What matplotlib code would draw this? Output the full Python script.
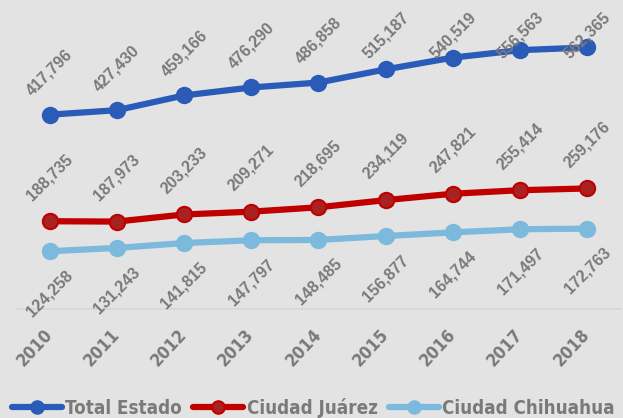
import matplotlib
matplotlib.use("Agg")
import matplotlib.pyplot as plt
from matplotlib import font_manager as fm
from matplotlib.transforms import ScaledTranslation

years = ["2010", "2011", "2012", "2013", "2014", "2015", "2016", "2017", "2018"]
total_estado = [417796, 427430, 459166, 476290, 486858, 515187, 540519, 556563, 562365]
ciudad_juarez = [188735, 187973, 203233, 209271, 218695, 234119, 247821, 255414, 259176]
ciudad_chihuahua = [124258, 131243, 141815, 147797, 148485, 156877, 164744, 171497, 172763]

# find an installed condensed bold face
narrow_path = None
cands = []
for f in fm.fontManager.ttflist:
    nm = (f.fname + " " + f.name).lower()
    cond = ("condensed" in nm or "narrow" in nm or str(f.stretch) in ("condensed", "semi-condensed", "extra-condensed"))
    if cond and "italic" not in nm and "oblique" not in f.style:
        w = f.weight if isinstance(f.weight, int) else 400
        score = abs(w - 700) + (0 if "semi" not in nm else 50)
        cands.append((score, f.fname))
cands.sort()
if cands:
    narrow_path = cands[0][1]

def narrow_props(size):
    if narrow_path:
        return fm.FontProperties(fname=narrow_path, size=size)
    return fm.FontProperties(family="DejaVu Sans", weight="bold", size=size * 0.85)

bg = "#e3e3e3"
gray = "#7a7a7a"
W, H = 623, 418

fig = plt.figure(figsize=(W/100, H/100), dpi=100, facecolor=bg)
ax = fig.add_axes([16/W, (H-309)/H, 605/W, 299/H])
ax.set_facecolor(bg)
ax.set_xlim(-0.5, len(years) - 0.5)
ax.set_ylim(0, 299 * 2150)

x = list(range(len(years)))
series = [
    ("Total Estado", total_estado, "#2a5bb9", "#2a5bb9", "#2a5bb9", 1, 42),
    ("Ciudad Juárez", ciudad_juarez, "#c00000", "#a82222", "#c00000", 1, 44),
    ("Ciudad Chihuahua", ciudad_chihuahua, "#7cbadd", "#7cbadd", "#7cbadd", -1, 42),
]
for name, vals, lc, mfc, mec, side, off in series:
    ax.plot(x, vals, color=lc, lw=4.5, marker="o", markersize=11,
            markerfacecolor=mfc, markeredgecolor=mec, markeredgewidth=1.5,
            label=name, solid_capstyle="round", zorder=3)
    for xi, v in zip(x, vals):
        py = v / 2150.0
        if side > 0:
            o = min(off, 274 - py)
        else:
            o = -off
        ax.annotate(f"{v:,}", (xi, v), xytext=(0, o * 0.72), textcoords="offset points",
                    ha="center", va="center", rotation=45, color=gray,
                    fontsize=11.5, fontweight="bold", family="Liberation Sans", zorder=4,
                    annotation_clip=False)

ax.set_xticks(x)
ax.set_xticklabels(years, rotation=47, ha="right", va="center", rotation_mode="anchor", color=gray)
shift = ScaledTranslation(-9/100, 0, fig.dpi_scale_trans)
for t in ax.get_xticklabels():
    t.set_fontproperties(narrow_props(12.5))
    t.set_transform(t.get_transform() + shift)
ax.tick_params(axis="x", length=0, pad=16)
ax.set_yticks([])
for s in ["top", "right", "left"]:
    ax.spines[s].set_visible(False)
ax.spines["bottom"].set_color("#d6d6d6")
ax.spines["bottom"].set_linewidth(1.2)

leg = fig.legend(loc="lower center", bbox_to_anchor=(0.503, -0.04), ncol=3, frameon=False,
                 handlelength=2.65, columnspacing=0.6, handletextpad=0.2,
                 prop=narrow_props(13.5))
for t in leg.get_texts():
    t.set_color(gray)
for h in leg.legend_handles:
    h.set_markersize(9)

fig.savefig("out.png", dpi=100, facecolor=bg)
